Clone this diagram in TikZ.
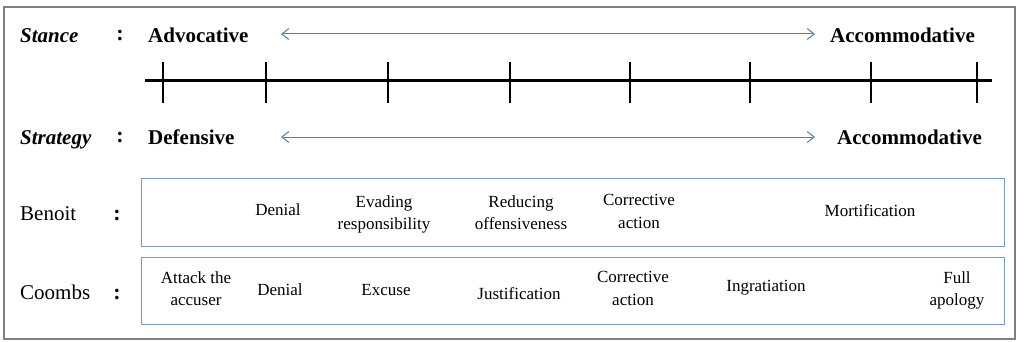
\documentclass[tikz,border=0pt]{standalone}
\usepackage{fontspec}
\setmainfont{Liberation Serif}
\usetikzlibrary{arrows.meta}
\definecolor{framegray}{HTML}{808080}
\definecolor{arrowblue}{HTML}{5B7D9E}
\definecolor{boxblue}{HTML}{7A9BBE}
\tikzset{
  big/.style={inner sep=0pt, anchor=base, font=\fontsize{21}{25}\selectfont\bfseries},
  bigit/.style={inner sep=0pt, anchor=base west, font=\fontsize{21}{25}\selectfont\bfseries\itshape},
  rowlab/.style={inner sep=0pt, anchor=base west, font=\fontsize{21}{25}\selectfont},
  colon/.style={inner sep=0pt, anchor=base, font=\fontsize{22}{25}\selectfont\bfseries},
  item/.style={inner sep=0pt, align=center, font=\fontsize{17}{22.5}\selectfont},
  itembase/.style={item, anchor=base},
  scale arrow/.style={draw=arrowblue, line width=1pt, {Straight Barb[length=7pt,width=11pt]}-{Straight Barb[length=7pt,width=11pt]}},
  groupbox/.style={draw=boxblue, line width=1pt},
  tick/.style={line width=1.3pt},
}
\begin{document}
\begin{tikzpicture}[x=1pt,y=-1pt]
\useasboundingbox (0,0) rectangle (1024,342);
\draw[framegray, line width=1.5pt] (4,7) rectangle (1015,339);

% Stance row
\node[bigit] (stance) at (20,43) {Stance};
\node[colon] (c1) at (120,41) {:};
\node[big, anchor=base west] (advo) at (148,43) {Advocative};
\node[big, anchor=base west] (acc1) at (830,43) {Accommodative};
\coordinate (a1l) at (281,34);
\coordinate (a1r) at (815,34);
\draw[scale arrow] (a1l) -- (a1r);

% axis
\coordinate (axl) at (145,81);
\coordinate (axr) at (992,81);
\draw[line width=3pt] (axl) -- (axr);
\foreach \x in {163,266,388,510,630,750,871,977}
  \draw[tick] (\x,62) -- (\x,103);

% Strategy row
\node[bigit] (strategy) at (20,144) {Strategy};
\node[colon] (c2) at (120,142) {:};
\node[big, anchor=base west] (def) at (148,144) {Defensive};
\node[big, anchor=base west] (acc2) at (837,144) {Accommodative};
\coordinate (a2l) at (281,137);
\coordinate (a2r) at (815,137);
\draw[scale arrow] (a2l) -- (a2r);

% Benoit
\node[rowlab] (benoit) at (20,220) {Benoit};
\node[colon] (c3) at (117,220) {:};
\draw[groupbox] (141,178) rectangle (1004,246);
\node[itembase] (b1) at (278,215) {Denial};
\node[item] (b2) at (384,214.4) {Evading\\responsibility};
\node[item] (b3) at (521,212.5) {Reducing\\offensiveness};
\node[item] (b4) at (639,211.5) {Corrective\\action};
\node[itembase] (b5) at (870,216) {Mortification};

% Coombs
\node[rowlab] (coombs) at (20,299) {Coombs};
\node[colon] (c4) at (117,299) {:};
\draw[groupbox] (141,257) rectangle (1004,324);
\node[item] (k1) at (196,288.5) {Attack the\\accuser};
\node[itembase] (k2) at (280,295) {Denial};
\node[itembase] (k3) at (386,295) {Excuse};
\node[itembase] (k4) at (519,299) {Justification};
\node[item] (k5) at (633,288.5) {Corrective\\action};
\node[itembase] (k6) at (766,291.5) {Ingratiation};
\node[item] (k7) at (957,290.5) {Full\\apology};
\end{tikzpicture}
\end{document}
